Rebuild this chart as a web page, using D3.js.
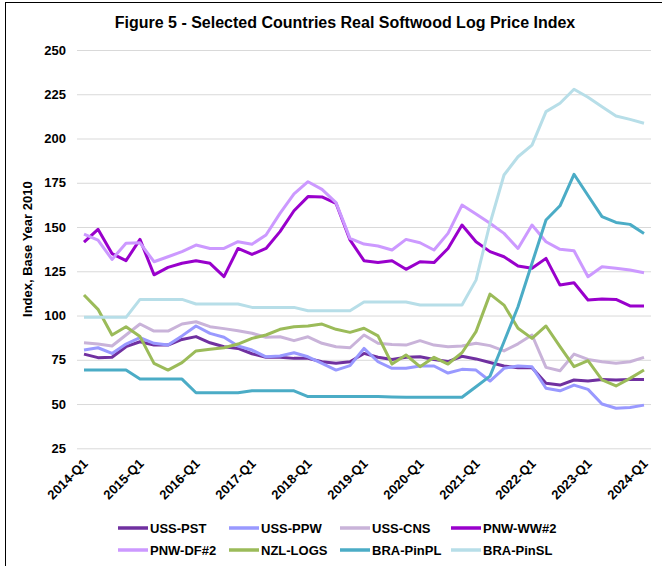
<!DOCTYPE html>
<html>
<head>
<meta charset="utf-8">
<script src="https://cdn.jsdelivr.net/npm/d3@7"></script>
<style>
  body { margin: 0; background: #fff; }
  text { font-family: "Liberation Sans", Arial, sans-serif; }
</style>
</head>
<body>
<div id="chart"></div>
<script>
// Quarters 2014-Q1 .. 2024-Q1
const years = [2014, 2015, 2016, 2017, 2018, 2019, 2020, 2021, 2022, 2023, 2024];
const quarters = [];
years.forEach(y => [1, 2, 3, 4].forEach(q => { if (y < 2024 || q === 1) quarters.push(y + '-Q' + q); }));

const tickLabels = ['2014-Q1', '2015-Q1', '2016-Q1', '2017-Q1', '2018-Q1', '2019-Q1',
    '2020-Q1', '2021-Q1', '2022-Q1', '2023-Q1', '2024-Q1'];
const yTicks = [25, 50, 75, 100, 125, 150, 175, 200, 225, 250];

// series values (index, base year 2010)
const ussPST = [78.2, 76.2, 76.4, 82.4, 85.2, 83.3, 83.3, 86.5, 88.1, 84.6, 82.4, 81.4, 78.4,
    76.4, 76.4, 75.8, 75.8, 73.9, 73.0, 73.9, 78.6, 76.4, 75.2, 76.4, 76.7, 75.2,
    74.0, 77.0, 75.5, 73.5, 71.5, 70.5, 70.5, 61.7, 60.7, 63.6, 63.0, 63.9, 63.6, 63.9, 63.9];
const ussPPW = [80.5, 81.8, 78.6, 83.9, 87.5, 84.3, 83.3, 88.5, 94.1, 89.9, 87.7, 82.8, 80.5,
    76.7, 77.1, 79.0, 76.7, 73.0, 69.2, 71.7, 81.4, 73.9, 70.2, 70.2, 71.5, 71.5,
    67.5, 69.6, 69.2, 63.0, 70.2, 71.5, 71.1, 58.9, 57.5, 60.7, 58.3, 50.0, 47.6, 48.1, 49.4];
const ussCNS = [84.6, 83.9, 82.8, 89.0, 95.2, 91.2, 91.2, 95.2, 96.5, 93.7, 92.6, 91.4, 90.0,
    87.7, 88.0, 85.8, 88.0, 84.3, 82.4, 81.8, 89.0, 84.3, 83.7, 83.3, 85.8, 83.3,
    82.4, 82.8, 84.3, 83.0, 80.0, 84.0, 89.0, 70.7, 68.8, 78.2, 75.2, 73.9, 73.0, 73.9, 76.4];
const pnwWW2 = [141.5, 148.7, 135.0, 131.0, 143.0, 123.0, 127.2, 129.5, 131.0, 129.5, 122.0, 137.9, 134.5,
    137.9, 147.4, 159.2, 167.2, 167.0, 163.4, 142.7, 131.0, 129.9, 131.0, 126.1, 130.4, 129.9,
    137.9, 151.1, 141.7, 136.1, 133.2, 128.0, 126.7, 132.3, 117.2, 118.5, 108.8, 109.3, 109.1, 105.4, 105.4];
const pnwDF2 = [146.0, 142.6, 131.7, 140.8, 141.1, 130.4, 133.2, 136.1, 139.8, 137.9, 137.9, 141.7, 140.3,
    145.5, 157.7, 168.7, 175.6, 171.3, 163.8, 143.6, 140.4, 139.3, 137.0, 143.0, 141.1, 137.0,
    146.4, 162.4, 157.4, 152.1, 146.4, 137.9, 151.1, 141.7, 137.4, 136.6, 121.9, 127.6, 126.7, 125.7, 124.2];
const nzlLogs = [111.6, 103.5, 89.0, 93.7, 88.1, 73.0, 69.2, 73.4, 80.0, 80.9, 81.8, 83.9, 87.1,
    89.0, 92.2, 93.7, 94.1, 95.2, 92.2, 90.5, 92.8, 88.5, 72.6, 77.7, 71.1, 76.4,
    72.6, 79.0, 90.9, 112.1, 105.9, 92.8, 87.1, 94.1, 82.4, 71.1, 74.5, 63.6, 60.2, 64.5, 69.2];
const braPinPL = [69.2, 69.2, 69.2, 69.2, 64.1, 64.1, 64.1, 64.1, 56.4, 56.4, 56.4, 56.4, 57.5,
    57.5, 57.5, 57.5, 54.2, 54.2, 54.2, 54.2, 54.2, 54.2, 54.0, 53.8, 53.8, 53.8,
    53.8, 53.8, 59.8, 65.8, 85.2, 105.0, 129.5, 154.0, 162.0, 179.8, 167.8, 155.9, 152.6, 151.5, 146.4];
const braPinSL = [99.0, 99.0, 99.0, 99.0, 109.1, 109.1, 109.1, 109.1, 106.5, 106.5, 106.5, 106.5, 104.6,
    104.6, 104.6, 104.6, 102.7, 102.7, 102.7, 102.7, 107.6, 107.6, 107.6, 107.6, 105.9, 105.9,
    105.9, 105.9, 120.0, 152.0, 179.4, 189.7, 196.3, 215.2, 219.9, 227.8, 223.3, 218.0, 212.7, 210.8, 208.6];

const seriesNames = ['USS-PST', 'USS-PPW', 'USS-CNS', 'PNW-WW#2', 'PNW-DF#2', 'NZL-LOGS', 'BRA-PinPL', 'BRA-PinSL'];
const seriesValues = [ussPST, ussPPW, ussCNS, pnwWW2, pnwDF2, nzlLogs, braPinPL, braPinSL];
const colors = ['#7030A0', '#9999FF', '#C9B3D9', '#9900CC', '#CC99FF', '#9BBB59', '#4BACC6', '#B7DEE8'];

const W = 662, H = 566;
const margin = {top: 50, right: 11, bottom: 118, left: 77},
    width = W - margin.left - margin.right,
    height = 448.3 - margin.top;

const root = d3.select('#chart').append('svg')
    .attr('width', W)
    .attr('height', H);

// chart frame
root.append('rect')
    .attr('x', 5.5).attr('y', 2.5)
    .attr('width', 700).attr('height', 700)
    .attr('fill', 'none').attr('stroke', '#000').attr('stroke-width', 1);

root.append('text')
    .attr('x', 345).attr('y', 28)
    .attr('text-anchor', 'middle')
    .style('font-size', '16px').style('font-weight', 'bold')
    .text('Figure 5 - Selected Countries Real Softwood Log Price Index');

const svg = root.append('g')
    .attr('transform', `translate(${margin.left}, ${margin.top})`);

const xScale = d3.scalePoint()
    .domain(quarters)
    .range([7, width - 7]);

const yScale = d3.scaleLinear()
    .domain([25, 250])
    .range([height, 0]);

// gridlines + y labels
const yAxis = svg.append('g')
    .call(d3.axisLeft(yScale).tickValues(yTicks).tickSize(-width).tickPadding(11));
yAxis.select('.domain').remove();
yAxis.selectAll('.tick line').attr('stroke', '#D9D9D9').attr('stroke-width', 1);
yAxis.selectAll('.tick text')
    .style('font-size', '13px').style('font-weight', 'bold').attr('fill', '#000');

// x labels
const xAxis = svg.append('g')
    .attr('transform', `translate(0, ${height})`)
    .call(d3.axisBottom(xScale).tickValues(tickLabels).tickSize(0));
xAxis.select('.domain').remove();
xAxis.selectAll('.tick text')
    .style('font-size', '13px').style('font-weight', 'bold').attr('fill', '#000')
    .attr('text-anchor', 'end')
    .attr('dy', '0')
    .attr('transform', 'translate(2, 14) rotate(-45)');

svg.append('text')
    .attr('transform', `translate(${32 - margin.left}, ${height / 2}) rotate(-90)`)
    .attr('text-anchor', 'middle')
    .style('font-size', '13px').style('font-weight', 'bold')
    .text('Index, Base Year 2010');

const line = d3.line()
    .x((d, i) => xScale(quarters[i]))
    .y(d => yScale(d));

svg.selectAll('.series')
    .data(seriesValues)
    .enter()
    .append('path')
    .attr('class', 'series')
    .attr('d', d => line(d))
    .attr('fill', 'none')
    .attr('stroke', (d, i) => colors[i])
    .attr('stroke-width', 3)
    .attr('stroke-linejoin', 'round');

// legend
const legend = root.append('g');
const item = legend.selectAll('.item')
    .data(seriesNames)
    .enter()
    .append('g')
    .attr('transform', (d, i) => `translate(${118 + (i % 4) * 111}, ${i < 4 ? 528 : 550})`);
item.append('line')
    .attr('x1', 0).attr('x2', 30)
    .attr('stroke', (d, i) => colors[i])
    .attr('stroke-width', 3.5);
item.append('text')
    .attr('x', 32).attr('dy', '0.35em')
    .style('font-size', '13px').style('font-weight', 'bold')
    .text(d => d);
</script>
</body>
</html>
